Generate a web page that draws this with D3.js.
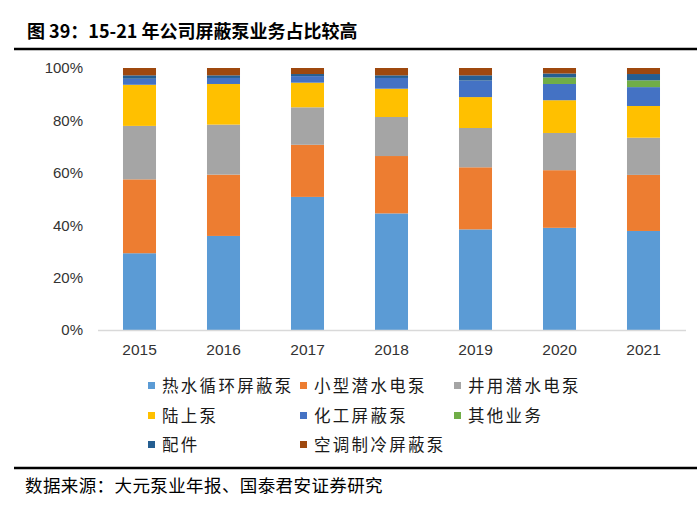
<!DOCTYPE html>
<html><head><meta charset="utf-8">
<script src="https://cdn.jsdelivr.net/npm/d3@7"></script>
<style>
html,body{margin:0;padding:0;background:#fff;}
svg{display:block;}
</style></head>
<body>
<svg id="c" width="697" height="506"></svg>
<script>
const years = ["2015","2016","2017","2018","2019","2020","2021"];
const seriesNames = ["热水循环屏蔽泵","小型潜水电泵","井用潜水电泵","陆上泵","化工屏蔽泵","其他业务","配件","空调制冷屏蔽泵"];
const hotWater   = [29.3, 35.9, 50.8, 44.5, 38.4, 39.0, 37.8];
const smallSub   = [28.2, 23.4, 19.9, 21.9, 23.7, 22.0, 21.4];
const wellSub    = [20.4, 19.1, 14.3, 14.9, 15.0, 14.2, 14.2];
const landPump   = [15.7, 15.5,  9.4, 10.8, 11.8, 12.5, 12.1];
const chemPump   = [ 2.3,  2.3,  2.5,  4.1,  6.3,  6.2,  7.2];
const otherBiz   = [ 0.0,  0.0,  0.0,  0.0,  0.0,  2.5,  2.6];
const parts      = [ 1.3,  1.0,  0.8,  1.0,  2.0,  1.5,  2.4];
const acPump     = [ 2.8,  2.8,  2.3,  2.8,  2.8,  2.1,  2.3];
const yTicks = [0, 20, 40, 60, 80, 100];
const colors = ["#5B9BD5","#ED7D31","#A5A5A5","#FFC000","#4472C4","#70AD47","#255E91","#9E480E"];

const allSeries = [hotWater, smallSub, wellSub, landPump, chemPump, otherBiz, parts, acPump];
const rows = years.map((y,i)=>{
  const r = {year:y};
  let tot = 0; allSeries.forEach(s=>tot+=s[i]);
  seriesNames.forEach((n,k)=> r[n] = allSeries[k][i] / tot * 100);
  return r;
});

const svg = d3.select("#c");
const cjk = "'Noto Sans CJK SC', sans-serif";

// Title
svg.append("text").attr("x",27).attr("y",38)
  .attr("font-family",cjk).attr("font-weight","bold").attr("font-size",18)
  .attr("fill","#000").text("图 39：15-21 年公司屏蔽泵业务占比较高");
svg.append("line").attr("x1",14).attr("x2",697).attr("y1",49).attr("y2",49)
  .attr("stroke","#000").attr("stroke-width",2.5);

const x = d3.scaleBand().domain(years).range([97.5,685.5]).paddingInner(0.607).paddingOuter(0.3035);
const y = d3.scaleLinear().domain([0,100]).range([330,68]);

const stack = d3.stack().keys(seriesNames);
const layers = stack(rows);

svg.append("g").selectAll("g").data(layers).join("g")
  .attr("fill",(d,i)=>colors[i])
  .selectAll("rect").data(d=>d).join("rect")
  .attr("x",d=>x(d.data.year)).attr("width",x.bandwidth())
  .attr("y",d=>y(d[1])).attr("height",d=>Math.max(0,y(d[0])-y(d[1])));

// Y axis labels
const yAxis = d3.axisLeft(y).tickValues(yTicks).tickFormat(d=>d+"%").tickSize(0).tickPadding(0);
const gy = svg.append("g").attr("transform","translate(83,0)").call(yAxis);
gy.select(".domain").remove();
gy.selectAll("text").attr("font-family","'Liberation Sans', Arial, sans-serif").attr("font-size",15).attr("fill","#333");

// X axis
const xAxis = d3.axisBottom(x).tickSize(0).tickPadding(14);
const gx = svg.append("g").attr("transform","translate(0,330)").call(xAxis);
gx.select(".domain").attr("stroke","#D9D9D9").attr("stroke-width",1.5);
gx.selectAll("text").attr("font-family","'Liberation Sans', Arial, sans-serif").attr("font-size",15.5).attr("fill","#333");

// Legend
const legendPos = [
  [148,386],[300,386],[454,386],
  [148,416],[300,416],[454,416],
  [148,445],[300,445]
];
const lg = svg.append("g");
seriesNames.forEach((n,i)=>{
  const [lx,ly] = legendPos[i];
  lg.append("rect").attr("x",lx).attr("y",ly-4).attr("width",7).attr("height",7).attr("fill",colors[i]);
  lg.append("text").attr("x",lx+14).attr("y",ly).attr("dy","0.36em")
    .attr("font-family",cjk).attr("font-size",16.5).attr("letter-spacing",2.3)
    .attr("fill","#1a1a1a").text(n);
});

// Source
svg.append("line").attr("x1",14).attr("x2",697).attr("y1",468).attr("y2",468)
  .attr("stroke","#000").attr("stroke-width",2.5);
svg.append("text").attr("x",25).attr("y",492)
  .attr("font-family",cjk).attr("font-size",17.5).attr("letter-spacing",0.4)
  .attr("fill","#000").text("数据来源：大元泵业年报、国泰君安证券研究");
</script>
</body></html>
